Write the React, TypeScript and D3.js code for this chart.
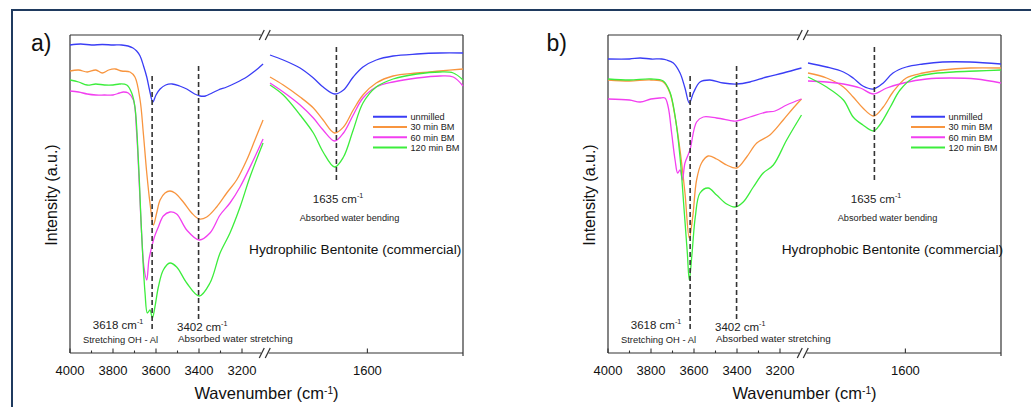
import React from "react";
import * as d3 from "d3";

const FONT = "'Liberation Sans', Arial, Helvetica, sans-serif";

// legend / series
const seriesNames = ["unmilled", "30 min BM", "60 min BM", "120 min BM"];
const seriesColors = ["#3a3df5", "#f8953f", "#f23ff0", "#3ced3c"];

// axis ticks
const majorTicksLeft = [4000, 3800, 3600, 3400, 3200];
const minorTicksLeft = [3900, 3700, 3500, 3300];
const majorTicksRight = [1600];

// marked bands: wavenumber, dashed span (intensity a.u.), description
const peakWn = [3618, 3402, 1635];
const peakSpan = [[277, 23], [287, 33], [306, 171]];
const peakDesc = ["Stretching OH - Al", "Absorbed water stretching", "Absorbed water bending"];

// a) hydrophilic bentonite  [wavenumber, intensity]
const aUnmilled = [
  [4000, 308], [3950, 309], [3900, 308], [3850, 308.5], [3800, 308], [3760, 308], [3730, 307], [3707, 305],
  [3690, 302], [3674, 297], [3658, 287], [3643, 276], [3630, 263], [3615, 251], [3600, 258], [3581, 264],
  [3555, 268], [3525, 269], [3490, 267], [3457, 264], [3420, 259], [3395, 257], [3370, 257], [3349, 259],
  [3310, 263], [3271, 266], [3230, 270], [3178, 276], [3140, 282], [3102, 289],
  [1710, 298], [1695, 293], [1676, 285], [1661, 275], [1650, 266], [1637, 259], [1627, 263], [1616, 276],
  [1605, 286], [1590, 293], [1571, 297], [1544, 299], [1518, 300], [1492, 300],
];
const a30 = [
  [4000, 282], [3960, 283], [3920, 281], [3880, 283], [3850, 280], [3820, 283], [3790, 284], [3760, 282],
  [3721, 281], [3698, 276], [3674, 253], [3659, 220], [3643, 180], [3628, 150], [3612, 128], [3597, 140],
  [3581, 153], [3558, 160], [3535, 162], [3512, 160], [3473, 151], [3434, 140], [3399, 134], [3364, 136],
  [3318, 146], [3271, 160], [3225, 173], [3178, 193], [3140, 213], [3102, 233],
  [1710, 276], [1695, 268], [1676, 256], [1661, 245], [1650, 233], [1637, 220], [1627, 226], [1616, 243],
  [1605, 258], [1590, 270], [1571, 277], [1544, 280], [1518, 282], [1492, 284],
];
const a60 = [
  [4000, 262], [3960, 261], [3920, 259], [3880, 258], [3840, 258], [3800, 258], [3770, 260], [3752, 261],
  [3729, 260], [3705, 253], [3690, 220], [3678, 170], [3667, 120], [3656, 86], [3643, 73], [3633, 93],
  [3620, 106], [3609, 115], [3589, 126], [3566, 137], [3535, 141], [3504, 139], [3457, 123], [3399, 113],
  [3349, 120], [3302, 138], [3256, 150], [3209, 166], [3147, 193], [3102, 214],
  [1710, 270], [1695, 261], [1676, 248], [1661, 235], [1650, 223], [1637, 212], [1627, 220], [1616, 238],
  [1605, 255], [1590, 266], [1571, 271], [1544, 275], [1518, 277], [1503, 276], [1492, 267],
];
const a120 = [
  [4000, 273], [3960, 271], [3920, 268], [3880, 269], [3840, 268], [3800, 268], [3770, 269], [3736, 268],
  [3713, 260], [3698, 246], [3682, 193], [3667, 120], [3651, 60], [3640, 40], [3628, 43], [3617, 35],
  [3605, 46], [3589, 66], [3566, 83], [3535, 90], [3504, 86], [3457, 70], [3399, 57], [3349, 70],
  [3302, 100], [3256, 120], [3209, 146], [3163, 176], [3102, 210],
  [1710, 268], [1695, 258], [1676, 238], [1661, 220], [1650, 201], [1637, 186], [1627, 196], [1616, 223],
  [1605, 250], [1590, 266], [1571, 274], [1544, 279], [1518, 281], [1503, 280], [1492, 273],
];

// b) hydrophobic bentonite
const bUnmilled = [
  [4000, 294], [3900, 294], [3850, 295], [3800, 294], [3750, 294], [3727, 293], [3696, 290], [3665, 280],
  [3642, 265], [3622, 250], [3603, 260], [3572, 271], [3526, 273], [3464, 270], [3401, 269], [3340, 271],
  [3262, 276], [3185, 280], [3100, 285],
  [1710, 290], [1689, 286], [1670, 281], [1659, 275], [1648, 267], [1636, 264], [1625, 270], [1614, 280],
  [1599, 286], [1580, 289], [1558, 291], [1527, 291], [1492, 289],
];
const b30 = [
  [4000, 273], [3900, 272], [3800, 273], [3743, 271], [3712, 260], [3688, 236], [3665, 203], [3642, 160],
  [3622, 115], [3606, 136], [3588, 173], [3565, 190], [3534, 197], [3495, 194], [3448, 188], [3401, 185],
  [3355, 196], [3308, 210], [3247, 218], [3185, 233], [3138, 245], [3100, 254],
  [1710, 280], [1689, 275], [1670, 266], [1659, 256], [1648, 245], [1636, 237], [1625, 246], [1614, 261],
  [1599, 275], [1580, 280], [1558, 283], [1527, 285], [1492, 285],
];
const b60 = [
  [4000, 254], [3900, 253], [3850, 251], [3800, 254], [3760, 255], [3735, 255], [3720, 246], [3704, 220],
  [3688, 193], [3676, 180], [3665, 183], [3654, 173], [3642, 190], [3619, 203], [3588, 231], [3557, 236],
  [3495, 235], [3417, 232], [3401, 232], [3340, 236], [3262, 241], [3223, 242], [3169, 248], [3100, 254],
  [1710, 272], [1689, 271], [1670, 269], [1651, 265], [1636, 259], [1621, 265], [1602, 270], [1576, 274],
  [1550, 275], [1520, 274], [1492, 270],
];
const b120 = [
  [4000, 274], [3900, 273], [3800, 274], [3743, 272], [3712, 261], [3688, 237], [3665, 196], [3647, 146],
  [3631, 100], [3622, 73], [3609, 100], [3594, 136], [3572, 160], [3534, 165], [3495, 158], [3448, 149],
  [3409, 146], [3371, 151], [3324, 166], [3278, 180], [3231, 188], [3169, 213], [3100, 238],
  [1710, 276], [1689, 266], [1670, 253], [1659, 236], [1648, 228], [1636, 222], [1629, 228], [1617, 246],
  [1606, 263], [1591, 275], [1572, 279], [1546, 281], [1520, 282], [1492, 283],
];

const frame = { left: 70, right: 463, top: 35, bottom: 353 };
const breakL = 263.5;
const breakR = 270;

const xLeft = d3.scaleLinear().domain([4000, 3100]).range([frame.left, breakL]);
const xRight = d3.scaleLinear().domain([1710, 1492]).range([breakR, frame.right]);
const y = d3.scaleLinear().domain([0, 318]).range([frame.bottom, frame.top]);
const xOf = (wn: number) => (wn > 2500 ? xLeft(wn) : xRight(wn));

const line = d3
  .line<number[]>()
  .x((d) => xOf(d[0]))
  .y((d) => y(d[1]))
  .curve(d3.curveCatmullRom.alpha(0.5));

const Sup = ({ base, after }: { base: string; after?: string }) => (
  <>
    {base}
    <tspan dy={-5} fontSize="0.62em">-1</tspan>
    {after ? <tspan dy={5}>{after}</tspan> : null}
  </>
);

const BreakMark = ({ x, yy }: { x: number; yy: number }) => (
  <g stroke="#333" strokeWidth={1.2}>
    <line x1={x - 5.5} y1={yy + 5} x2={x - 0.5} y2={yy - 5} />
    <line x1={x + 0.5} y1={yy + 5} x2={x + 5.5} y2={yy - 5} />
  </g>
);

const Panel = ({ dx, letter, letterX, title, titleX, data }: any) => {
  const gap0 = breakL - 2.5;
  const gap1 = breakR - 1.5;
  return (
    <g transform={`translate(${dx},0)`} fontFamily={FONT}>
      <text x={letterX} y={51} fontSize={23} fill="#111">{letter}</text>

      {/* frame with axis break */}
      <g stroke="#333" strokeWidth={1.2} fill="none">
        <line x1={frame.left} y1={frame.top} x2={gap0} y2={frame.top} />
        <line x1={gap1} y1={frame.top} x2={frame.right} y2={frame.top} />
        <line x1={frame.left} y1={frame.bottom} x2={gap0} y2={frame.bottom} />
        <line x1={gap1} y1={frame.bottom} x2={frame.right} y2={frame.bottom} />
        <line x1={frame.left} y1={frame.top} x2={frame.left} y2={frame.bottom} />
        <line x1={frame.right} y1={frame.top} x2={frame.right} y2={frame.bottom + 3} />
      </g>
      <BreakMark x={(gap0 + gap1) / 2} yy={frame.top} />
      <BreakMark x={(gap0 + gap1) / 2} yy={frame.bottom} />

      {/* ticks */}
      <g stroke="#333" strokeWidth={1.1}>
        {majorTicksLeft.map((t) => (
          <line key={t} x1={xLeft(t)} x2={xLeft(t)} y1={frame.bottom} y2={frame.bottom - 4.5} />
        ))}
        {minorTicksLeft.map((t) => (
          <line key={t} x1={xLeft(t)} x2={xLeft(t)} y1={frame.bottom} y2={frame.bottom - 2.5} />
        ))}
        {majorTicksRight.map((t) => (
          <line key={t} x1={xRight(t)} x2={xRight(t)} y1={frame.bottom} y2={frame.bottom - 4.5} />
        ))}
      </g>
      <g fontSize={13} textAnchor="middle" fill="#111">
        {majorTicksLeft.map((t) => (
          <text key={t} x={xLeft(t)} y={375}>{t}</text>
        ))}
        {majorTicksRight.map((t) => (
          <text key={t} x={xRight(t)} y={375}>{t}</text>
        ))}
      </g>

      {/* axis titles */}
      <text x={(frame.left + frame.right) / 2} y={399} fontSize={16.5} textAnchor="middle" fill="#111">
        <Sup base="Wavenumber (cm" after=")" />
      </text>
      <text transform="translate(57,195) rotate(-90)" fontSize={16} textAnchor="middle" fill="#111">
        Intensity (a.u.)
      </text>

      {/* spectra */}
      {data.map((s: number[][], i: number) => (
        <g key={i} fill="none" stroke={seriesColors[i]} strokeWidth={1.3}>
          <path d={line(s.filter((d) => d[0] > 2500)) || ""} />
          <path d={line(s.filter((d) => d[0] < 2500)) || ""} />
        </g>
      ))}

      {/* band markers */}
      {peakWn.map((wn, i) => (
        <line
          key={wn}
          x1={xOf(wn)}
          x2={xOf(wn)}
          y1={y(peakSpan[i][0])}
          y2={y(peakSpan[i][1])}
          stroke="#333"
          strokeWidth={1.6}
          strokeDasharray="5,3"
        />
      ))}
      <g fill="#222">
        <text x={118} y={329} fontSize={11.5} textAnchor="middle"><Sup base={`${peakWn[0]} cm`} /></text>
        <text x={120.5} y={343} fontSize={9.4} textAnchor="middle">{peakDesc[0]}</text>
        <text x={177} y={330.5} fontSize={11.5}><Sup base={`${peakWn[1]} cm`} /></text>
        <text x={178} y={341.5} fontSize={9.9}>{peakDesc[1]}</text>
        <text x={338} y={203} fontSize={11.5} textAnchor="middle"><Sup base={`${peakWn[2]} cm`} /></text>
        <text x={349.5} y={221} fontSize={9.2} textAnchor="middle">{peakDesc[2]}</text>
      </g>

      <text x={titleX} y={254} fontSize={13.7} fill="#111">{title}</text>

      {/* legend */}
      {seriesNames.map((n, i) => {
        const ly = 116.7 + i * 10.3;
        return (
          <g key={n}>
            <line x1={373} x2={407} y1={ly} y2={ly} stroke={seriesColors[i]} strokeWidth={2} />
            <text x={410.5} y={ly + 3.3} fontSize={9.2} fill="#222">{n}</text>
          </g>
        );
      })}
    </g>
  );
};

export default function App() {
  return (
    <svg
      width={1031}
      height={407}
      style={{ position: "absolute", left: 0, top: 0, background: "#fff" }}
    >
      <rect x={0} y={0} width={1031} height={407} fill="#fff" />
      <rect x={12} y={10} width={1040} height={420} fill="none" stroke="#1f3a5f" strokeWidth={2} />
      <Panel
        dx={0}
        letter="a)"
        letterX={31}
        title="Hydrophilic Bentonite (commercial)"
        titleX={249}
        data={[aUnmilled, a30, a60, a120]}
      />
      <Panel
        dx={538}
        letter="b)"
        letterX={8.5}
        title="Hydrophobic Bentonite (commercial)"
        titleX={243.7}
        data={[bUnmilled, b30, b60, b120]}
      />
    </svg>
  );
}
